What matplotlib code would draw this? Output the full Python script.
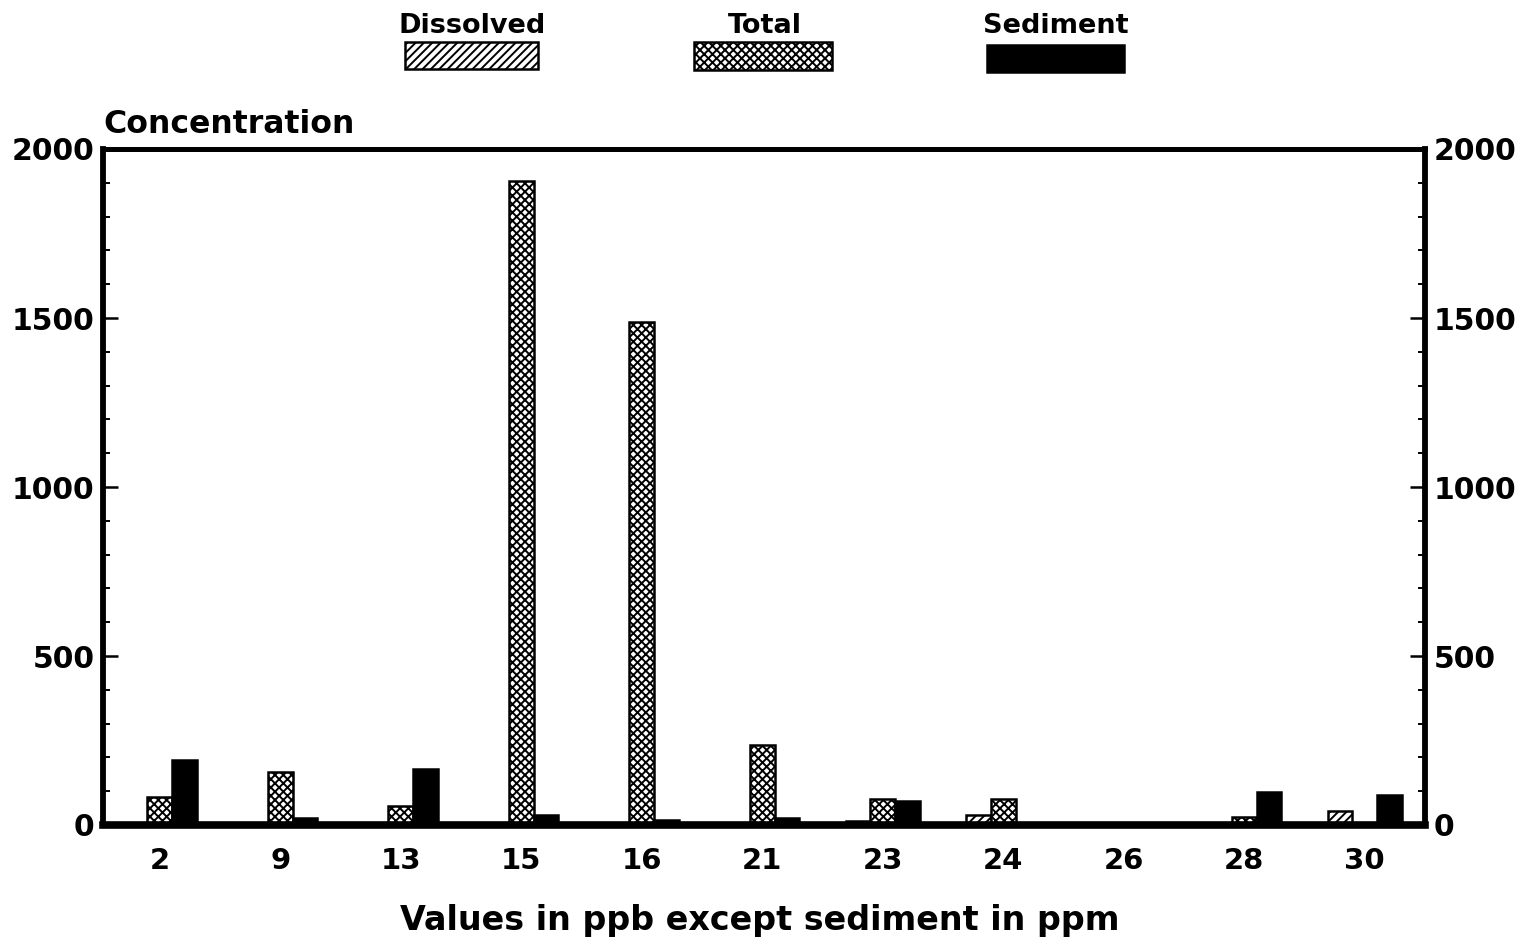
import matplotlib
matplotlib.use("Agg")
import matplotlib.pyplot as plt
import numpy as np
from matplotlib.patches import Rectangle
from matplotlib.ticker import MultipleLocator

# Sampling stations and measured concentrations
stations = ["2", "9", "13", "15", "16", "21", "23", "24", "26", "28", "30"]
dissolved = [2, 4, 3, 5, 5, 2, 12, 30, 6, 3, 42]
total = [83, 157, 55, 1905, 1488, 237, 78, 78, 2, 25, 5]
sediment = [192, 20, 167, 30, 15, 22, 70, 6, 5, 97, 88]

series_names = ["Dissolved", "Total", "Sediment"]
y_ticks = [0, 500, 1000, 1500, 2000]

plt.rcParams["font.family"] = ["DejaVu Sans"]
plt.rcParams["font.weight"] = "bold"
plt.rcParams["hatch.linewidth"] = 1.4

W, H = 1540, 943
fig = plt.figure(figsize=(W / 100, H / 100), dpi=100)
fig.patch.set_facecolor("white")


def fx(px):
    return px / W


def fy(py):
    return 1 - py / H


ax = fig.add_axes([fx(103), fy(825), fx(1425) - fx(103), fy(149) - fy(825)])

x = np.arange(len(stations))
w = 0.205
bar_kw = dict(width=w, edgecolor="black", linewidth=1.8, zorder=2)
ax.bar(x - w, dissolved, facecolor="white", hatch="////", **bar_kw)
ax.bar(x, total, facecolor="white", hatch="xxxx", **bar_kw)
ax.bar(x + w, sediment, facecolor="black", **bar_kw)

ax.set_xlim(-0.47, len(stations) - 0.5)
ax.set_ylim(0, 2000)

ax.set_xticks(x)
ax.set_xticklabels(stations)
ax.set_yticks(y_ticks)
ax.set_yticklabels([str(t) for t in y_ticks])
ax.yaxis.set_minor_locator(MultipleLocator(100))

ax.tick_params(axis="x", length=0, pad=16, labelsize=21)
ax.tick_params(axis="y", which="major", direction="in", length=11, width=1.8,
               left=True, right=True, labelleft=True, labelright=True,
               labelsize=21.5, pad=6)
ax.tick_params(axis="y", which="minor", direction="in", length=5, width=1.4,
               left=True, right=True)
for lab in ax.get_xticklabels() + ax.get_yticklabels():
    lab.set_fontweight("bold")

ax.spines["left"].set_linewidth(4.2)
ax.spines["right"].set_linewidth(4.2)
ax.spines["top"].set_linewidth(3.6)
ax.spines["bottom"].set_linewidth(5.5)
for s in ax.spines.values():
    s.set_zorder(3)

# Axis title above the frame
fig.text(fx(103), fy(133), "Concentration", fontsize=22.7, fontweight="bold",
         ha="left", va="baseline")

# Horizontal axis caption
fig.text(fx(760), fy(904), "Values in ppb except sediment in ppm", fontsize=24,
         fontweight="bold", ha="center", va="top")

# Legend across the top
legend_boxes = [
    (405, 42, 538, 69, "white", "////", 472),
    (694, 42, 832, 70, "white", "xxxx", 765),
    (987, 45, 1124, 72, "black", None, 1056),
]
for name, (x0, y0, x1, y1, fc, hatch, cx) in zip(series_names, legend_boxes):
    fig.patches.append(Rectangle((fx(x0), fy(y1)), fx(x1) - fx(x0), fy(y0) - fy(y1),
                                 transform=fig.transFigure, facecolor=fc,
                                 edgecolor="black", linewidth=1.8, hatch=hatch))
    fig.text(fx(cx), fy(33), name, fontsize=19.5, fontweight="bold",
             ha="center", va="baseline")

fig.savefig("out.png", dpi=100, facecolor="white")
